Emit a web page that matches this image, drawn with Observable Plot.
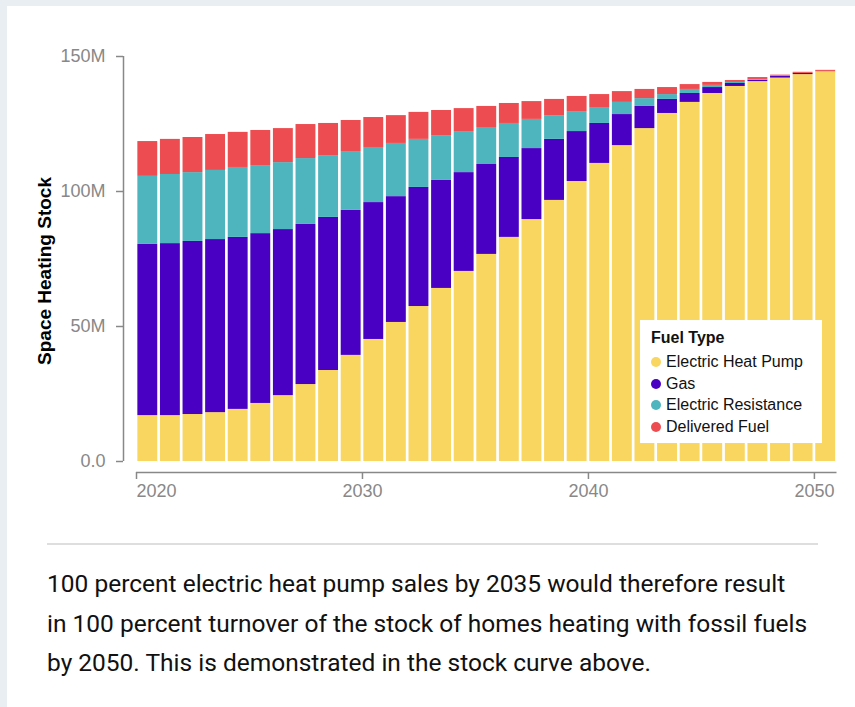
<!DOCTYPE html>
<html><head><meta charset="utf-8">
<script src="https://cdn.jsdelivr.net/npm/d3@7"></script>
<script src="https://cdn.jsdelivr.net/npm/@observablehq/plot@0.6"></script>
<style>
html,body{margin:0;padding:0;width:855px;height:707px;overflow:hidden;background:#e9eef2;font-family:"Liberation Sans",Arial,sans-serif;}
#card{position:absolute;left:7px;top:6px;width:900px;height:760px;background:#fff;}
#chart{position:absolute;left:0;top:0;}
#legend{position:absolute;left:640px;top:320px;width:182px;height:123px;background:#fff;box-sizing:border-box;padding:8px 0 0 11px;color:#111;}
#legend .ttl{font-weight:bold;font-size:16px;line-height:20px;height:20px;margin-bottom:3px;}
#legend .row{display:flex;align-items:center;height:21.7px;font-size:16px;}
#legend .dot{width:10px;height:10px;border-radius:50%;margin-right:5px;flex:none;}
#sep{position:absolute;left:47px;top:543px;width:771px;height:2px;background:#dedede;}
#caption{position:absolute;left:47px;top:564px;margin:0;font-family:"Roboto",sans-serif;font-size:24.5px;line-height:39.5px;color:#111;white-space:nowrap;}
</style></head><body>
<div id="card"></div>
<div id="chart"></div>
<div id="legend"></div>
<div id="sep"></div>
<p id="caption">100 percent electric heat pump sales by 2035 would therefore result<br>in 100 percent turnover of the stock of homes heating with fossil fuels<br>by 2050. This is demonstrated in the stock curve above.</p>
<script>
const years = [2020,2021,2022,2023,2024,2025,2026,2027,2028,2029,2030,2031,2032,2033,2034,2035,2036,2037,2038,2039,2040,2041,2042,2043,2044,2045,2046,2047,2048,2049,2050];
const fuels = ["Electric Heat Pump","Gas","Electric Resistance","Delivered Fuel"];
const colors = ["#f9d65f","#4a00c2","#4eb5bf","#ed4d50"];
// values in millions of homes
const heatPump   = [17.0,17.0,17.4,18.1,19.3,21.5,24.4,28.5,33.7,39.3,45.2,51.5,57.4,64.1,70.4,76.7,83.0,89.6,96.7,103.7,110.4,117.0,123.3,128.9,133.0,136.3,138.9,140.7,142.0,143.3,144.4];
const gas        = [63.4,63.7,64.1,64.1,63.7,62.9,61.5,59.3,56.7,53.7,50.7,46.6,44.1,40.0,36.6,33.3,29.6,26.3,22.6,18.5,14.8,11.5,8.2,5.2,3.3,2.2,1.1,0.5,0.7,0.4,0.05];
const resistance = [25.2,25.6,25.5,25.6,25.9,25.2,24.8,24.4,22.9,21.8,20.4,19.7,17.8,16.6,15.2,13.7,12.6,10.8,8.8,7.4,5.9,4.5,2.9,1.8,1.5,0.8,0.4,0.3,0.1,0.05,0.02];
const delivered  = [12.9,13.0,13.0,13.3,13.0,13.0,12.6,12.6,11.9,11.5,11.1,10.3,10.0,9.3,8.5,7.8,7.4,6.6,6.0,5.6,4.8,4.0,3.4,2.6,1.8,1.1,0.7,0.7,0.3,0.4,0.4];
const yTicks = [0,50,100,150];
const xTicks = [2020,2030,2040,2050];
const yTitle = "Space Heating Stock";
const legendTitle = "Fuel Type";

const series = [heatPump, gas, resistance, delivered];
const data = years.flatMap((year, i) => fuels.map((fuel, j) => ({year, fuel, value: series[j][i]})));

const gray = "#888";
const chart = Plot.plot({
  width: 855, height: 520,
  marginLeft: 136, marginRight: 18.5, marginTop: 56, marginBottom: 59,
  style: {fontFamily: "'Liberation Sans', Arial, sans-serif", background: "transparent", overflow: "visible"},
  x: {type: "linear", domain: [years[0], years[years.length - 1] + 1], axis: null},
  y: {domain: [yTicks[0], yTicks[yTicks.length - 1]], axis: null},
  color: {domain: fuels, range: colors},
  marks: [
    Plot.rectY(data, {x: "year", interval: 1, y: "value", fill: "fuel", order: fuels, insetLeft: 1.35, insetRight: 1.35}),
    Plot.ruleX([years[0]], {y1: yTicks[0], y2: yTicks[yTicks.length - 1], dx: -13, stroke: gray, strokeWidth: 1.5}),
    Plot.axisY(yTicks, {anchor: "left", tickSize: 7, tickPadding: 11, dx: -13, strokeWidth: 1.5,
      tickFormat: d => d === 0 ? "0.0" : d + "M", fontSize: 18, color: gray, label: null}),
    Plot.ruleY([yTicks[0]], {x1: years[0], x2: years[years.length - 1] + 1, dy: 11, stroke: gray, strokeWidth: 1.5}),
    Plot.axisX(xTicks.slice(0, 1), {anchor: "bottom", tickSize: 7, tickPadding: 5, dy: 11, strokeWidth: 1.5,
      textAnchor: "start", tickFormat: d => String(d), fontSize: 18, color: gray, label: null}),
    Plot.axisX(xTicks.slice(1), {anchor: "bottom", tickSize: 7, tickPadding: 5, dy: 11, strokeWidth: 1.5,
      tickFormat: d => String(d), fontSize: 18, color: gray, label: null}),
    Plot.text([yTitle], {frameAnchor: "left", textAnchor: "middle", rotate: -90, dx: -92, dy: 12, fontSize: 19, fontWeight: "bold", fill: "#000"})
  ]
});
document.getElementById("chart").appendChild(chart);

const legend = document.getElementById("legend");
const t = document.createElement("div");
t.className = "ttl"; t.textContent = legendTitle; legend.appendChild(t);
fuels.forEach((f, i) => {
  const r = document.createElement("div"); r.className = "row";
  const d = document.createElement("span"); d.className = "dot"; d.style.background = colors[i];
  const s = document.createElement("span"); s.textContent = f;
  r.appendChild(d); r.appendChild(s); legend.appendChild(r);
});
</script>
</body></html>
